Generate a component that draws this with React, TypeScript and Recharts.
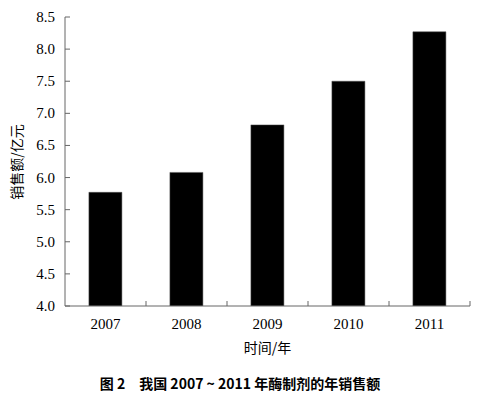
import React from 'react';
import { BarChart, Bar, XAxis, YAxis } from 'recharts';

const years = ['2007', '2008', '2009', '2010', '2011'];
const sales = [5.77, 6.08, 6.82, 7.5, 8.27];
const yTicks = [4.0, 4.5, 5.0, 5.5, 6.0, 6.5, 7.0, 7.5, 8.0, 8.5];
const xLabel = '时间/年';
const yLabel = '销售额/亿元';
const caption = '图 2\u3000我国 2007 ~ 2011 年酶制剂的年销售额';

const data = years.map((y, i) => ({ year: y, value: sales[i] }));

const W = 478;
const H = 399;
const PLOT_LEFT = 65;
const PLOT_RIGHT = 470;
const PLOT_TOP = 17;
const PLOT_BOTTOM = 306;
const X_AXIS_H = 50;
const AXIS_COLOR = '#666';
const SERIF = '"Liberation Serif", "DejaVu Serif", serif';
const CJK = '"Noto Sans CJK SC", "Noto Sans", sans-serif';

const XTick = (props: any) => {
  const { x, y, payload } = props;
  const half = (PLOT_RIGHT - PLOT_LEFT) / years.length / 2;
  return (
    <g>
      <line x1={x + half} x2={x + half} y1={y} y2={y - 5} stroke={AXIS_COLOR} strokeWidth={1} />
      <text x={x} y={y + 18} textAnchor="middle" dominantBaseline="central" fontFamily={SERIF} fontSize={15} fill="#000">
        {payload.value}
      </text>
    </g>
  );
};

const YTick = (props: any) => {
  const { x, y, payload } = props;
  return (
    <g>
      <line x1={x} x2={x + 5} y1={y} y2={y} stroke={AXIS_COLOR} strokeWidth={1} />
      <text x={x - 10} y={y} textAnchor="end" dominantBaseline="central" fontFamily={SERIF} fontSize={15} fill="#000">
        {Number(payload.value).toFixed(1)}
      </text>
    </g>
  );
};

export default function App() {
  return (
    <div style={{ position: 'absolute', left: 0, top: 0, width: W, height: H, background: '#fff' }}>
      <BarChart
        width={W}
        height={H}
        data={data}
        margin={{ top: PLOT_TOP, right: W - PLOT_RIGHT, left: 0, bottom: H - PLOT_BOTTOM - X_AXIS_H }}
        barCategoryGap="29.5%"
      >
        <XAxis
          dataKey="year"
          height={X_AXIS_H}
          stroke={AXIS_COLOR}
          tickLine={false}
          tickSize={0}
          tickMargin={0}
          tick={<XTick />}
          interval={0}
        />
        <YAxis
          width={PLOT_LEFT}
          domain={[4, 8.5]}
          ticks={yTicks}
          stroke={AXIS_COLOR}
          tickLine={false}
          tickSize={0}
          tickMargin={0}
          tick={<YTick />}
          interval={0}
          allowDataOverflow
        />
        <Bar dataKey="value" fill="#000" stroke="#555" strokeWidth={0.5} isAnimationActive={false} />
      </BarChart>
      <div
        style={{
          position: 'absolute',
          left: 16,
          top: (PLOT_TOP + PLOT_BOTTOM) / 2,
          transform: 'translate(-50%, -50%) rotate(-90deg)',
          fontFamily: CJK,
          fontSize: 14,
          color: '#000',
          whiteSpace: 'nowrap',
        }}
      >
        {yLabel}
      </div>
      <div
        style={{
          position: 'absolute',
          left: (PLOT_LEFT + PLOT_RIGHT) / 2,
          top: 347,
          transform: 'translate(-50%, -50%)',
          fontFamily: CJK,
          fontSize: 14,
          color: '#000',
          whiteSpace: 'nowrap',
        }}
      >
        {xLabel}
      </div>
      <div
        style={{
          position: 'absolute',
          left: 240,
          top: 383,
          transform: 'translate(-50%, -50%)',
          fontFamily: CJK,
          fontSize: 14,
          fontWeight: 'bold',
          color: '#000',
          whiteSpace: 'pre',
        }}
      >
        {caption}
      </div>
    </div>
  );
}
